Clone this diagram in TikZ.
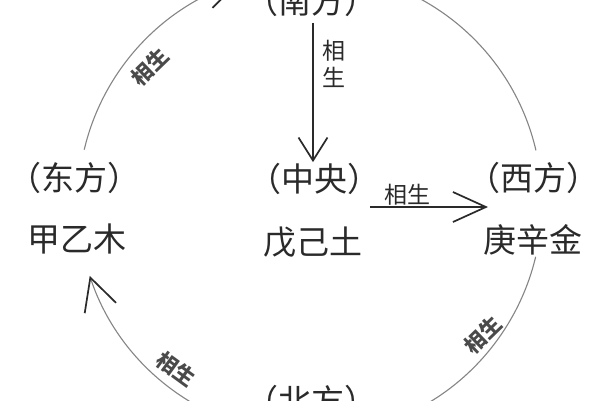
\documentclass[tikz,border=0pt]{standalone}
\usepackage{fontspec}
\newfontfamily\cjk{Noto Sans CJK SC}
\usetikzlibrary{arrows.meta}
\definecolor{ink}{HTML}{2A2A2A}
\definecolor{arcgray}{HTML}{858585}
\definecolor{lbl}{HTML}{4A4A4A}
\begin{document}
\begin{tikzpicture}[x=1pt,y=-1pt,
  dirtext/.style={font=\cjk\fontsize{33}{33}\selectfont, text=ink, inner sep=1pt},
  lab/.style={font=\cjk\bfseries\fontsize{21}{21}\selectfont, text=lbl, inner sep=0pt},
  biglab/.style={font=\cjk\fontsize{23}{27}\selectfont, text=ink, inner sep=0pt, align=center},
  arcline/.style={draw=arcgray, line width=1.1pt},
  arcarrow/.style={arcline, -{Straight Barb[length=32pt,width=33pt,line width=1.7pt,color=ink]}},
  vtip/.style={draw=ink, line width=1.5pt, -{Straight Barb[length=23pt,width=29pt,line width=1.7pt]}},
  htip/.style={draw=ink, line width=1.5pt, -{Straight Barb[length=33pt,width=30pt,line width=1.7pt]}},
]
\useasboundingbox (0,0) rectangle (600,400);
\fill[white] (0,0) rectangle (600,400);
\clip (0,0) rectangle (600,400);
\coordinate (O) at (310,203);

% direction nodes
\node[dirtext] (nan)   at (311,1)   {（南方）};
\node[dirtext] (dong)  at (75,178)  {（东方）};
\node[dirtext] (mu)    at (77,239)  {甲乙木};
\node[dirtext] (zhong) at (314,179) {（中央）};
\node[dirtext] (tu)    at (313,242) {戊己土};
\node[dirtext] (xi)    at (533,178) {（西方）};
\node[dirtext] (jin)   at (533,240) {庚辛金};
\node[dirtext] (bei)   at (311,401) {（北方）};

% circle arcs
\draw[arcarrow] (O) ++(193.3:232) arc[start angle=193.3, end angle=252.4, radius=232];
\draw[arcline]  (O) ++(-75:232) arc[start angle=-75, end angle=-13.1, radius=232];
\draw[arcarrow] (O) ++(13.4:232) arc[start angle=13.4, end angle=77, radius=232];
\draw[arcarrow] (O) ++(104:232) arc[start angle=104, end angle=161.7, radius=232];

% straight arrows
\draw[vtip] (nan.south -| 313,0) ++(0,5) -- (zhong.north -| 313,0);
\coordinate (h1) at (370,207);
\coordinate (h2) at (488,207);
\draw[htip] (h1) -- (h2);

% labels
\node[biglab] (lv) at (334,64) {相\\生};
\node[biglab] (lh) at (407,195) {相生};
\node[lab, rotate=44]  (lul) at (150,67)  {相生};
\node[lab, rotate=-36] (lll) at (176,369) {相生};
\node[lab, rotate=44]  (llr) at (483,335) {相生};
\end{tikzpicture}
\end{document}
